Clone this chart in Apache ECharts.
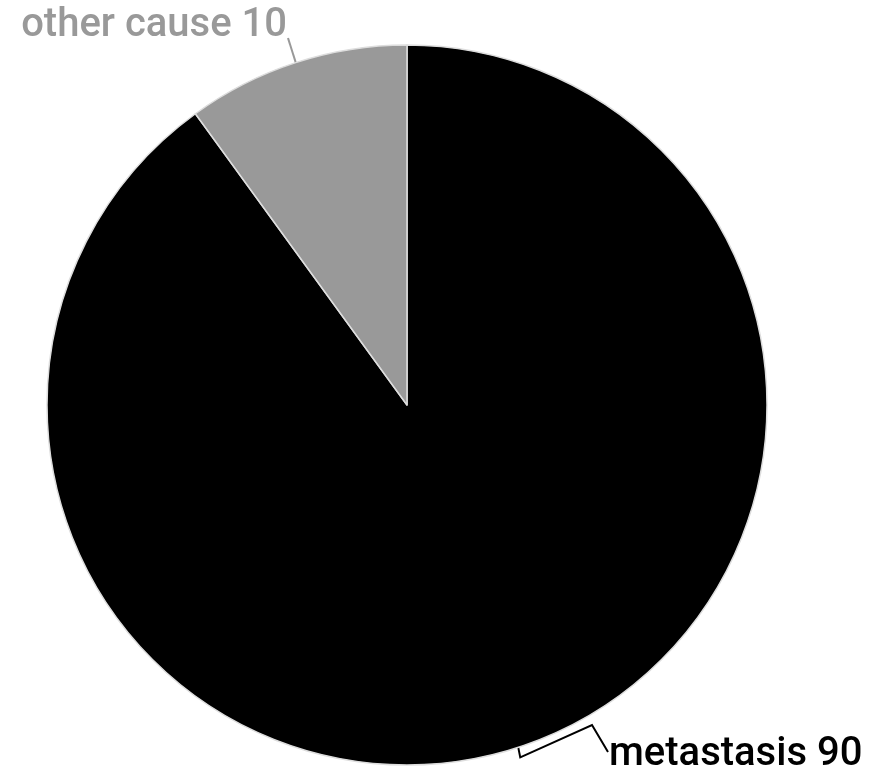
<!DOCTYPE html>
<html><head><meta charset="utf-8">
<script src="https://cdn.jsdelivr.net/npm/echarts@6/dist/echarts.min.js"></script>
<style>html,body{margin:0;padding:0;background:#fff}#c{width:877px;height:775px}</style>
</head><body><div id="c"></div>
<script>
const categories = ['metastasis', 'other cause'];
const values = [90, 10];
const colors = ['#000000', '#999999'];
const chart = echarts.init(document.getElementById('c'));
chart.setOption({
  animation: false,
  series: [{
    type: 'pie',
    center: [407, 405],
    radius: [0, 360],
    startAngle: 90,
    clockwise: true,
    avoidLabelOverlap: false,
    data: categories.map((n, i) => ({
      name: n, value: values[i],
      itemStyle: { color: colors[i] },
      label: { color: colors[i] },
      labelLine: { lineStyle: { color: colors[i] } }
    })),
    itemStyle: { borderColor: '#dddddd', borderWidth: 1.5 },
    label: {
      formatter: '{b} {c}',
      fontFamily: 'Roboto',
      fontWeight: 500,
      fontSize: 40
    },
    labelLine: { length: 26, length2: 4, lineStyle: { width: 2 } },
    labelLayout: function (p) {
      const p0 = p.labelLinePoints ? p.labelLinePoints[0] : [0, 0];
      if (p.dataIndex === 0) {
        const lx = 609, ly = 755;
        return {
          x: lx, y: ly, align: 'left', verticalAlign: 'middle',
          labelLinePoints: [p0, [p0[0] + 2, p0[1] + 10], [lx - 17, ly - 30], [lx - 1, ly - 3]]
        };
      } else {
        const lx = 287, ly = 26;
        return {
          x: lx, y: ly, align: 'right', verticalAlign: 'middle',
          labelLinePoints: [p0, [lx + 1, ly + 12]]
        };
      }
    }
  }]
});
</script></body></html>
